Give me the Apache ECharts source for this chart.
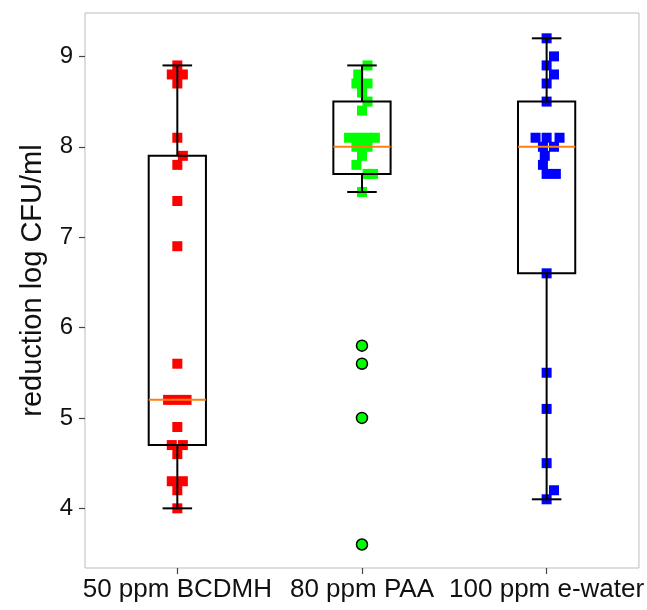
<!DOCTYPE html>
<html>
<head>
<meta charset="utf-8">
<script src="https://cdn.jsdelivr.net/npm/echarts@6/dist/echarts.min.js"></script>
<style>html,body{margin:0;padding:0;background:#fff}#chart{width:647px;height:610px}</style>
</head>
<body>
<div id="chart"></div>
<script>
// ---- data ----
const categories = ['50 ppm BCDMH', '80 ppm PAA', '100 ppm e-water'];
// [lower whisker, Q1, median, Q3, upper whisker]
const boxStats = [
  [4.0, 4.7, 5.2, 7.9, 8.9],
  [7.5, 7.7, 8.0, 8.5, 8.9],
  [4.1, 6.6, 8.0, 8.5, 9.2]
];
const bcdmhValues = [8.9, 8.8, 8.8, 8.7, 8.1, 7.9, 7.8, 7.4, 6.9, 5.6, 5.2, 5.2, 5.2, 4.9, 4.7, 4.7, 4.6, 4.3, 4.3, 4.2, 4.0];
const bcdmhJitter = [0, -0.03, 0.03, 0, 0, 0.03, 0, 0, 0, 0, -0.05, 0, 0.05, 0, -0.03, 0.03, 0, -0.03, 0.03, 0, 0];
const paaValues = [8.9, 8.8, 8.7, 8.7, 8.6, 8.5, 8.4, 8.1, 8.1, 8.1, 8.1, 8.0, 8.0, 8.0, 7.9, 7.8, 7.7, 7.7, 7.5];
const paaJitter = [0.03, -0.02, -0.03, 0.03, 0, 0.03, 0, -0.07, -0.02, 0.03, 0.07, -0.03, 0.03, 0, 0, -0.03, 0.03, 0.06, 0];
const paaOutliers = [5.8, 5.6, 5.0, 3.6];
const ewaterValues = [9.2, 9.0, 8.9, 8.8, 8.7, 8.5, 8.1, 8.1, 8.1, 8.0, 8.0, 7.9, 7.8, 7.7, 7.7, 6.6, 5.5, 5.1, 4.5, 4.2, 4.1];
const ewaterJitter = [0, 0.04, 0, 0.04, 0, 0, -0.06, 0, 0.07, -0.02, 0.04, -0.01, -0.02, 0, 0.05, 0, 0, 0, 0, 0.04, 0];
const yLabel = 'reduction log CFU/ml';

// ---- build ----
const chart = echarts.init(document.getElementById('chart'), null, {renderer: 'canvas'});
const FONT = 'Liberation Sans, Arial, sans-serif';

function pts(idx, vals, jit) {
  return vals.map((v, i) => [idx + jit[i], v]);
}

function renderBox(params, api) {
  const x = api.value(0);
  const lo = api.value(1), q1 = api.value(2), med = api.value(3), q3 = api.value(4), hi = api.value(5);
  const band = api.size([1, 0])[0];
  const hb = band * 0.155, hc = band * 0.08;
  const c = api.coord([x, 0])[0];
  const y = v => api.coord([x, v])[1];
  const black = {stroke: '#000', lineWidth: 2, fill: null};
  return {
    type: 'group',
    children: [
      {type: 'line', shape: {x1: c, y1: y(q1), x2: c, y2: y(lo)}, style: black},
      {type: 'line', shape: {x1: c, y1: y(q3), x2: c, y2: y(hi)}, style: black},
      {type: 'line', shape: {x1: c - hc, y1: y(lo), x2: c + hc, y2: y(lo)}, style: black},
      {type: 'line', shape: {x1: c - hc, y1: y(hi), x2: c + hc, y2: y(hi)}, style: black},
      {type: 'rect', shape: {x: c - hb, y: y(q3), width: 2 * hb, height: y(q1) - y(q3)}, style: black},
      {type: 'line', shape: {x1: c - hb, y1: y(med), x2: c + hb, y2: y(med)}, style: {stroke: '#ff7f0e', lineWidth: 2}}
    ]
  };
}

const option = {
  backgroundColor: '#fff',
  animation: false,
  grid: {left: 85, right: 7, top: 13, bottom: 42, show: true, borderColor: '#bdbdbd', borderWidth: 1},
  xAxis: [
    {
      type: 'category', data: categories,
      axisLine: {show: false, onZero: false},
      axisTick: {show: true, alignWithLabel: true, length: 6, lineStyle: {color: '#444', width: 1.2}},
      axisLabel: {fontSize: 26, color: '#111', fontFamily: FONT, margin: 9, interval: 0},
      splitLine: {show: false}
    },
    {type: 'value', min: -0.5, max: 2.5, show: false, axisLine: {onZero: false}}
  ],
  yAxis: {
    type: 'value', min: 3.34, max: 9.48,
    name: yLabel, nameLocation: 'middle', nameRotate: 90, nameGap: 38,
    nameTextStyle: {fontSize: 29, color: '#111', fontFamily: FONT, padding: [0, 0, 0, 20]},
    axisLine: {show: false, onZero: false},
    axisTick: {show: true, length: 6, lineStyle: {color: '#444', width: 1.2}},
    axisLabel: {fontSize: 24, color: '#111', fontFamily: FONT, margin: 12, showMinLabel: false, showMaxLabel: false},
    splitLine: {show: false}
  },
  series: [
    {type: 'scatter', xAxisIndex: 1, data: pts(0, bcdmhValues, bcdmhJitter), symbol: 'rect', symbolSize: 10, itemStyle: {color: '#ff0000', opacity: 1}, z: 2},
    {type: 'scatter', xAxisIndex: 1, data: pts(1, paaValues, paaJitter), symbol: 'rect', symbolSize: 10, itemStyle: {color: '#00ff00', opacity: 1}, z: 2},
    {type: 'scatter', xAxisIndex: 1, data: pts(2, ewaterValues, ewaterJitter), symbol: 'rect', symbolSize: 10, itemStyle: {color: '#0000ff', opacity: 1}, z: 2},
    {
      type: 'custom', xAxisIndex: 0, renderItem: renderBox, z: 3,
      data: boxStats.map((s, i) => [i].concat(s)),
      encode: {x: 0, y: [1, 2, 3, 4, 5]}
    },
    {type: 'scatter', xAxisIndex: 1, data: paaOutliers.map(v => [1, v]), symbol: 'circle', symbolSize: 11,
     itemStyle: {color: '#00ff00', borderColor: '#000', borderWidth: 1.5, opacity: 1}, z: 4}
  ]
};
chart.setOption(option);
</script>
</body>
</html>
